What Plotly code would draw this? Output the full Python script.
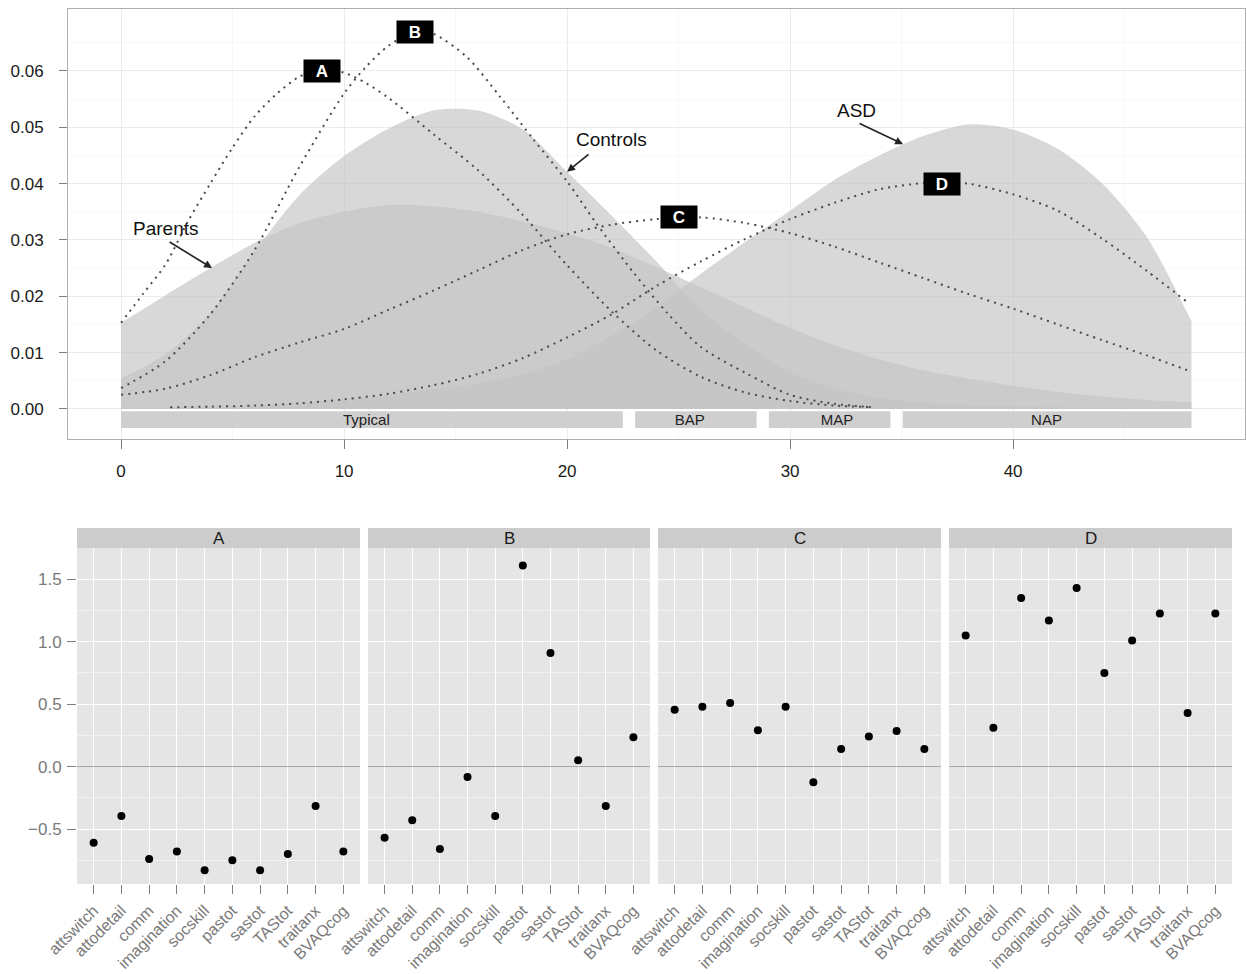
import plotly.graph_objects as go

W, H = 1247, 974
FONT = "Liberation Sans"

# ---------------- top panel data ----------------
grid_x = [0, 2, 4, 6, 8, 10, 12, 14, 16, 18, 20, 22, 24, 26, 28, 30, 32, 34, 36, 38, 40, 42, 44, 46, 48]
parents = [0.0153, 0.0202, 0.0250, 0.0295, 0.0330, 0.0350, 0.0362, 0.0360, 0.0350, 0.0333, 0.0312, 0.0286,
           0.0252, 0.0216, 0.0180, 0.0144, 0.0113, 0.0088, 0.0068, 0.0054, 0.0041, 0.0030, 0.0022, 0.0016, 0.0012]
controls = [0.0054, 0.0097, 0.0170, 0.0280, 0.0380, 0.0449, 0.0498, 0.0530, 0.0530, 0.0497, 0.0421, 0.0343,
            0.0262, 0.0175, 0.0115, 0.0065, 0.0036, 0.0020, 0.0011, 0.0007, 0.0004, 0.0003, 0.0002, 0.0001, 0.0001]
asd = [0.0001, 0.0002, 0.0004, 0.0007, 0.0011, 0.0017, 0.0025, 0.0035, 0.0045, 0.0062, 0.0088, 0.0130,
       0.0180, 0.0240, 0.0297, 0.0352, 0.0407, 0.0450, 0.0485, 0.0505, 0.0496, 0.0462, 0.0400, 0.0305, 0.0155]

prof_A_x = [0, 1, 2, 3, 4, 5, 6, 7, 8, 9, 10, 11, 12, 14, 16, 18, 20, 22, 24, 26, 28, 30, 32, 33.7]
prof_A_y = [0.0153, 0.0205, 0.0257, 0.0333, 0.0400, 0.0464, 0.0520, 0.0560, 0.0590, 0.0603, 0.0597, 0.0578,
            0.0552, 0.0488, 0.0424, 0.0345, 0.0255, 0.0173, 0.0104, 0.0057, 0.0029, 0.0014, 0.0006, 0.0003]
prof_B_x = [0, 2, 4, 6, 8, 10, 11, 12, 13.2, 14, 15.5, 17, 18.5, 20, 21.3, 23, 24.5, 26, 28, 30, 32, 33.7]
prof_B_y = [0.0037, 0.0085, 0.0168, 0.0283, 0.0430, 0.0560, 0.0608, 0.0645, 0.0670, 0.0666, 0.0625, 0.0554,
            0.0478, 0.0404, 0.0330, 0.0241, 0.0170, 0.0110, 0.0064, 0.0025, 0.0009, 0.0003]
prof_C_x = [0, 2, 4, 6, 8, 10, 12, 14, 16, 18, 20, 22, 24, 26, 28, 30, 32, 34, 36, 38, 40, 42, 44, 46, 48]
prof_C_y = [0.0025, 0.0036, 0.0060, 0.0092, 0.0118, 0.0142, 0.0176, 0.0210, 0.0246, 0.0282, 0.0310, 0.0327,
            0.0337, 0.0340, 0.0330, 0.0312, 0.0288, 0.0260, 0.0232, 0.0204, 0.0178, 0.0150, 0.0122, 0.0095, 0.0066]
prof_D_x = [2.2, 4, 6, 8, 10, 12, 14, 16, 18, 20, 22, 24, 26, 28, 30, 32, 34, 36, 37, 38, 40, 42, 44, 46, 47.8]
prof_D_y = [0.0003, 0.0004, 0.0006, 0.0010, 0.0017, 0.0027, 0.0042, 0.0062, 0.0090, 0.0127, 0.0168, 0.0218,
            0.0262, 0.0302, 0.0337, 0.0366, 0.0390, 0.0401, 0.0402, 0.0400, 0.0381, 0.0352, 0.0302, 0.0245, 0.0190]

box_labels = ["A", "B", "C", "D"]
box_x = [9.0, 13.2, 25.0, 36.8]
box_y = [0.0600, 0.0669, 0.0341, 0.0399]

group_labels = ["Parents", "Controls", "ASD"]
group_text_x = [2.0, 22.0, 33.0]
group_text_y = [0.0320, 0.0478, 0.0529]
arrow_tail_x = [2.11, 21.03, 33.05]
arrow_tail_y = [0.0298, 0.0454, 0.0508]
arrow_head_x = [4.08, 20.0, 35.07]
arrow_head_y = [0.0250, 0.0421, 0.0470]

band_labels = ["Typical", "BAP", "MAP", "NAP"]
band_start = [0.0, 23.05, 29.05, 35.05]
band_end = [22.5, 28.5, 34.5, 48.0]
band_label_x = [11.0, 25.5, 32.1, 41.5]
band_label_y = -0.0021
band_bottom = -0.0034
band_top = -0.0004

x_ticks_top = [0, 10, 20, 30, 40]
y_ticks_top = [0.00, 0.01, 0.02, 0.03, 0.04, 0.05, 0.06]

# ---------------- bottom panel data ----------------
facets = ["A", "B", "C", "D"]
variables = ["attswitch", "attodetail", "comm", "imagination", "socskill",
             "pastot", "sastot", "TAStot", "traitanx", "BVAQcog"]
scores_A = [-0.61, -0.395, -0.74, -0.68, -0.83, -0.75, -0.83, -0.70, -0.315, -0.68]
scores_B = [-0.57, -0.43, -0.66, -0.083, -0.395, 1.61, 0.91, 0.05, -0.315, 0.235]
scores_C = [0.455, 0.48, 0.51, 0.29, 0.48, -0.125, 0.14, 0.24, 0.285, 0.14]
scores_D = [1.05, 0.31, 1.35, 1.17, 1.43, 0.75, 1.01, 1.225, 0.43, 1.225]
facet_scores = [scores_A, scores_B, scores_C, scores_D]
y_ticks_bottom = [-0.5, 0.0, 0.5, 1.0, 1.5]

# ---------------- figure ----------------
fig = go.Figure()

fill_col = "rgba(196,196,196,0.66)"
for ys in [parents, controls, asd]:
    fig.add_trace(go.Scatter(x=grid_x, y=ys, mode="lines", fill="tozeroy",
                             fillcolor=fill_col, line=dict(width=0, shape="spline", smoothing=0.8),
                             hoverinfo="skip", xaxis="x", yaxis="y"))

centers = [(s + e) / 2 for s, e in zip(band_start, band_end)]
widths = [e - s for s, e in zip(band_start, band_end)]
fig.add_trace(go.Bar(x=centers, y=[band_top - band_bottom] * 4, base=[band_bottom] * 4, width=widths,
                     marker=dict(color="#cfcfcf", line=dict(width=0)), xaxis="x", yaxis="y",
                     hoverinfo="skip"))
fig.add_trace(go.Scatter(x=band_label_x, y=[band_label_y] * 4, mode="text", text=band_labels,
                         textfont=dict(family=FONT, size=15, color="#222222"), xaxis="x", yaxis="y",
                         hoverinfo="skip"))

for px_, py_ in [(prof_A_x, prof_A_y), (prof_B_x, prof_B_y), (prof_C_x, prof_C_y), (prof_D_x, prof_D_y)]:
    fig.add_trace(go.Scatter(x=px_, y=py_, mode="lines",
                             line=dict(color="#4a4a4a", width=2, dash="2px,5px", shape="spline", smoothing=0.8),
                             xaxis="x", yaxis="y", hoverinfo="skip"))

annotations = []
for lab, bx, by in zip(box_labels, box_x, box_y):
    annotations.append(dict(x=bx, y=by, xref="x", yref="y", text="<b>%s</b>" % lab, showarrow=False,
                            font=dict(family=FONT, size=17, color="white"), bgcolor="black",
                            width=34, height=20, borderpad=1, xanchor="center", yanchor="middle"))
for lab, tx, ty in zip(group_labels, group_text_x, group_text_y):
    annotations.append(dict(x=tx, y=ty, xref="x", yref="y", text=lab, showarrow=False,
                            font=dict(family=FONT, size=19, color="#111111"), xanchor="center", yanchor="middle"))
for hx, hy, tx, ty in zip(arrow_head_x, arrow_head_y, arrow_tail_x, arrow_tail_y):
    annotations.append(dict(x=hx, y=hy, ax=tx, ay=ty, xref="x", yref="y", axref="x", ayref="y",
                            text="", showarrow=True, arrowhead=2, arrowsize=1, arrowwidth=1.6,
                            arrowcolor="#222222", standoff=0, startstandoff=0))

# bottom facets
fx = [(77, 360), (368, 650), (658, 941), (949, 1232)]
py0, py1 = 548, 884
shapes = []
layout_axes = {}
for i, (f, scores) in enumerate(zip(facets, facet_scores)):
    n = i + 2
    fig.add_trace(go.Scatter(x=variables, y=scores, mode="markers",
                             marker=dict(color="black", size=8),
                             xaxis="x%d" % n, yaxis="y%d" % n, hoverinfo="skip"))
    layout_axes["xaxis%d" % n] = dict(
        domain=[fx[i][0] / W, fx[i][1] / W], anchor="y%d" % n, type="category", automargin=False,
        categoryorder="array", categoryarray=variables, range=[-0.6, 9.6],
        showgrid=True, gridcolor="white", gridwidth=1.3, zeroline=False, showline=False,
        ticks="outside", ticklen=9, tickcolor="#7f7f7f", tickwidth=1, tickangle=-45,
        tickfont=dict(family=FONT, size=16, color="#7a7a7a"), ticklabelstandoff=1)
    layout_axes["yaxis%d" % n] = dict(
        domain=[1 - py1 / H, 1 - py0 / H], anchor="x%d" % n, range=[-0.94, 1.75], automargin=False,
        tickvals=y_ticks_bottom, tickformat=".1f", showticklabels=(i == 0),
        ticks="outside" if i == 0 else "", ticklen=9, tickcolor="#7f7f7f",
        tickfont=dict(family=FONT, size=17, color="#7a7a7a"), ticklabelstandoff=2,
        showgrid=True, gridcolor="white", gridwidth=1.3,
        minor=dict(tickvals=[-0.75, -0.25, 0.25, 0.75, 1.25], showgrid=True, gridcolor="#f2f2f2", gridwidth=0.7, ticks=""),
        zeroline=True, zerolinecolor="#a8a8a8", zerolinewidth=1, showline=False)
    shapes.append(dict(type="rect", xref="x%d domain" % n, yref="y%d domain" % n, x0=0, x1=1, y0=0, y1=1,
                       fillcolor="#e5e5e5", line=dict(width=0), layer="below"))
    shapes.append(dict(type="rect", xref="paper", yref="paper", x0=fx[i][0] / W, x1=fx[i][1] / W,
                       y0=1 - 548 / H, y1=1 - 528 / H, fillcolor="#cccccc", line=dict(width=0), layer="below"))
    annotations.append(dict(x=(fx[i][0] + fx[i][1]) / 2 / W, y=1 - 538 / H, xref="paper", yref="paper",
                            text=f, showarrow=False, xanchor="center", yanchor="middle",
                            font=dict(family=FONT, size=17, color="#1a1a1a")))

fig.update_layout(
    width=W, height=H, margin=dict(l=0, r=0, t=0, b=0, autoexpand=False),
    paper_bgcolor="white", plot_bgcolor="white", showlegend=False,
    xaxis=dict(domain=[68 / W, 1245 / W], anchor="y", range=[-2.38, 50.4], automargin=False,
               tickvals=x_ticks_top, showgrid=True, gridcolor="#ebebeb", gridwidth=1,
               minor=dict(tickvals=[5, 15, 25, 35, 45], showgrid=True, gridcolor="#f7f7f7", ticks=""),
               zeroline=False, showline=True, mirror=True, linecolor="#b0b0b0", linewidth=1,
               ticks="outside", ticklen=9, tickcolor="#7f7f7f",
               tickfont=dict(family=FONT, size=17, color="#1a1a1a"), ticklabelstandoff=8),
    yaxis=dict(domain=[1 - 438.5 / H, 1 - 9 / H], anchor="x", range=[-0.00525, 0.0710], automargin=False,
               tickvals=y_ticks_top, tickformat=".2f", showgrid=True, gridcolor="#ebebeb", gridwidth=1,
               minor=dict(tickvals=[0.005, 0.015, 0.025, 0.035, 0.045, 0.055, 0.065], showgrid=True,
                          gridcolor="#f7f7f7", ticks=""),
               zeroline=False, showline=True, mirror=True, linecolor="#b0b0b0", linewidth=1,
               ticks="outside", ticklen=8, tickcolor="#7f7f7f",
               tickfont=dict(family=FONT, size=17, color="#1a1a1a"), ticklabelstandoff=12),
    annotations=annotations, shapes=shapes, **layout_axes)

fig.write_html("out.html", config={"responsive": False, "displayModeBar": False},
               post_script="document.body.style.margin='0px';document.body.style.overflow='hidden';")
